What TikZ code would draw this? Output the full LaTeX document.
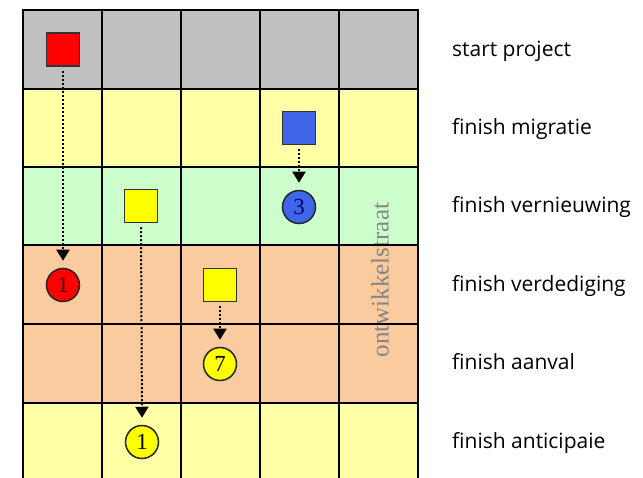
\documentclass[tikz,border=0pt]{standalone}
\usepackage{fontspec}
\setmainfont{Liberation Serif}
\newfontfamily\labelfont{Open Sans}
\usetikzlibrary{arrows.meta}

\definecolor{rowgray}{HTML}{C0C0C0}
\definecolor{rowyellow}{HTML}{FFFFA6}
\definecolor{rowgreen}{HTML}{CCFFCC}
\definecolor{rowpeach}{HTML}{FACB9F}
\definecolor{mkred}{HTML}{FF0000}
\definecolor{mkblue}{HTML}{3F66E8}
\definecolor{mkyellow}{HTML}{FFFF00}
\definecolor{streettext}{HTML}{858585}

\tikzset{
  gridline/.style={line width=2pt, black},
  sq/.style={rectangle, draw=black!80, line width=1.5pt, minimum size=33pt, inner sep=0pt},
  ms/.style={circle, draw=black!85, line width=1.5pt, minimum size=33pt, inner sep=0pt,
             font=\fontsize{23}{23}\selectfont},
  flow/.style={line width=2pt, dash pattern=on 2pt off 2pt, shorten <=4pt, shorten >=7pt,
               -{Triangle[length=11pt,width=13pt]}},
  lbl/.style={anchor=base west, inner sep=0pt, font=\labelfont\fontsize{21}{24}\selectfont}
}

\begin{document}
\begin{tikzpicture}[x=1pt,y=-1pt]
\useasboundingbox (0,0) rectangle (643,478);

% row bands
\fill[rowgray]   (23,10)  rectangle (418,89);
\fill[rowyellow] (23,89)  rectangle (418,167);
\fill[rowgreen]  (23,167) rectangle (418,245);
\fill[rowpeach]  (23,245) rectangle (418,403);
\fill[rowyellow] (23,403) rectangle (418,478);

% street name
\node[rotate=90, text=streettext, inner sep=0pt,
      font=\fontsize{25}{25}\selectfont] (street) at (380,280) {ontwikkelstraat};

% grid
\foreach \x in {23,102,181,260,339,418}
  \draw[gridline] (\x,9) -- (\x,478);
\foreach \y in {10,89,167,245,324,403}
  \draw[gridline] (22,\y) -- (419,\y);

% start markers
\node[sq, fill=mkred]    (sRed)  at (63,49.5)  {};
\node[sq, fill=mkblue]   (sBlue) at (299,128)  {};
\node[sq, fill=mkyellow] (sYa)   at (141,206)  {};
\node[sq, fill=mkyellow] (sYb)   at (220,285)  {};

% milestones
\node[ms, fill=mkred, text=black!70!red]   (cRed)  at (63,285)  {1};
\node[ms, fill=mkblue, text=blue!40!black] (cBlue) at (299,207) {3};
\node[ms, fill=mkyellow]                   (cYb)   at (220,364) {7};
\node[ms, fill=mkyellow]                   (cYa)   at (142,442) {1};

% dotted routes
\draw[flow] (sRed.south)  -- (cRed.north);
\draw[flow] (sBlue.south) -- (cBlue.north);
\draw[flow] (sYa.south)   -- (cYa.north);
\draw[flow] (sYb.south)   -- (cYb.north);

% row captions
\node[lbl] (l0) at (452,57)  {start project};
\node[lbl] (l1) at (452,135) {finish migratie};
\node[lbl] (l2) at (452,213) {finish vernieuwing};
\node[lbl] (l3) at (452,291.5) {finish verdediging};
\node[lbl] (l4) at (452,370) {finish aanval};
\node[lbl] (l5) at (452,448) {finish anticipaie};
\end{tikzpicture}
\end{document}
